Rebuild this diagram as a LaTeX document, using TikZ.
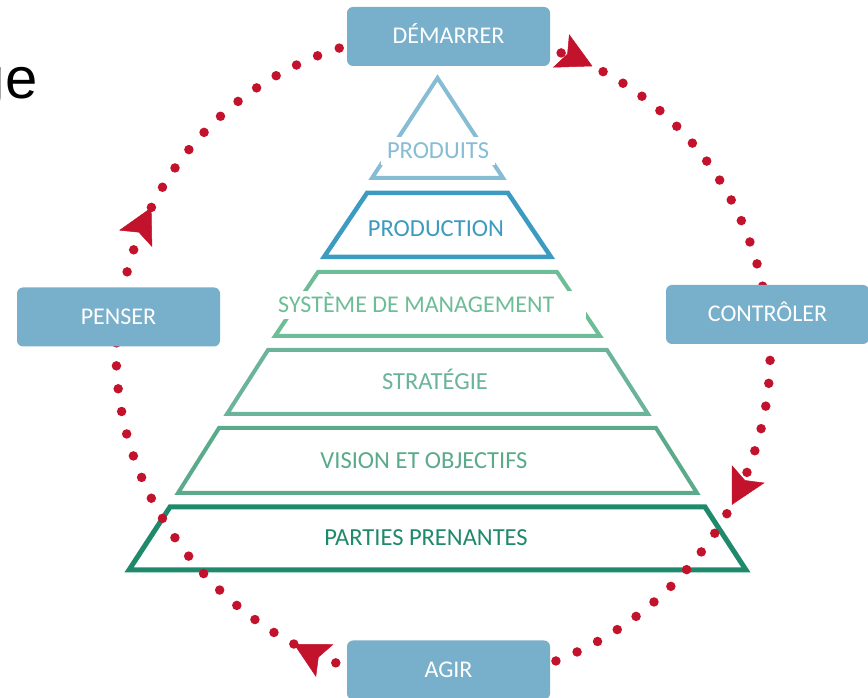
\documentclass[tikz,border=0pt]{standalone}
\usepackage{fontspec}
\setmainfont{Carlito}
\newfontfamily\titlefont{Liberation Sans}
\usetikzlibrary{arrows.meta,decorations.markings}
\definecolor{boxblue}{HTML}{78AFCB}
\definecolor{dotred}{HTML}{C3122B}
\definecolor{produits}{HTML}{86BDD4}
\definecolor{production}{HTML}{3D9BC1}
\definecolor{systeme}{HTML}{6DBD97}
\definecolor{strategie}{HTML}{6BB39A}
\definecolor{vision}{HTML}{5AAA8B}
\definecolor{parties}{HTML}{1F8A6B}
\pgfdeclarelayer{front}
\pgfsetlayers{main,front}

\begin{document}
\begin{tikzpicture}[x=1pt,y=1pt,
        stepbox/.style={fill=boxblue,rounded corners=6pt,minimum width=203pt,minimum height=59pt,
            text=white,font=\fontsize{24}{28}\selectfont,text height=15pt,text depth=0pt},
        layerlabel/.style={fill=white,font=\fontsize{24.5}{28}\selectfont,text height=15pt,
            text depth=0pt,inner xsep=6pt,inner ysep=6.5pt},
        dotarc/.style={dotred,line width=9.5pt,line cap=round,dash pattern=on 0pt off 23pt,
            postaction={decorate,decoration={markings,mark=at position #1 with
                {\arrow{Stealth[length=35pt,width=37pt,inset=7pt,line width=0.5pt]}}}}}]
        \useasboundingbox (0,0) rectangle (868,698);
        \node[anchor=base east,inner sep=0pt,font=\titlefont\fontsize{58}{66}\selectfont] (title) at (37.5,599) {ge};
        %% top of the pyramid
        \draw[produits,line width=4pt] (437.5,620) -- (503,520) -- (372,520) -- cycle;
        \node[layerlabel,text=produits] (produits) at (438,547) {PRODUITS};
        %% lower layers
        \foreach \yt/\wt/\yb/\wb/\col/\lw in {505/70.5/441/113.5/production/4.5,
            426/119.5/362/162.5/systeme/4,348/169.5/284/210.5/strategie/4,
            270/218.5/205/259.5/vision/4,191/267.5/128/308.5/parties/5}{
            \draw[\col,line width=\lw pt] (437.5-\wt,\yt) -- (437.5+\wt,\yt)
                -- (437.5+\wb,\yb) -- (437.5-\wb,\yb) -- cycle;
        }
        \node[layerlabel,text=production] (production) at (436,468.5) {PRODUCTION};
        \node[layerlabel,text=systeme,font=\fontsize{24}{28}\selectfont,anchor=west] (systeme) at (272,393) {SYSTÈME DE MANAGEMENT\hspace*{26pt}};
        \node[layerlabel,text=strategie] (strategie) at (435,316) {STRATÉGIE};
        \node[layerlabel,text=vision] (vision) at (424,237) {VISION ET OBJECTIFS};
        \node[layerlabel,text=parties] (parties) at (426,160) {PARTIES PRENANTES};
        % the four steps
        \begin{pgfonlayer}{front}
            \node[stepbox] (demarrer) at (448.5,661.5) {DÉMARRER};
            \node[stepbox] (controler) at (767.5,383.5) {CONTRÔLER};
            \node[stepbox] (agir) at (448.5,28) {AGIR};
            \node[stepbox] (penser) at (118.5,381) {PENSER};
        \end{pgfonlayer}
        % dotted cycle
        \draw[dotarc=0.32] ([yshift=4pt]demarrer.center) to[out=-1,in=97.5] (controler.center);
        \draw[dotarc=0.36] (controler.center) to[out=-82.5,in=1] ([yshift=-12pt]agir.center);
        \draw[dotarc=0.29] ([yshift=-12pt]agir.center) to[out=181,in=263] (penser.center);
        \draw[dotarc=0.24] (penser.center) to[out=83,in=179] ([yshift=4pt]demarrer.center);
    \end{tikzpicture}
\end{document}
